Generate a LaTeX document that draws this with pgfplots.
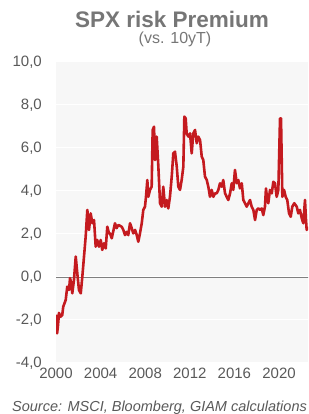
\documentclass[border=0pt]{standalone}
\usepackage{fontspec}
\setmainfont{Liberation Sans}
\usepackage{pgfplots}
\pgfplotsset{compat=1.18}
\definecolor{redline}{HTML}{C41A1F}
\definecolor{bg}{HTML}{F7F7F7}
\definecolor{txt}{HTML}{595959}
\definecolor{ttl}{HTML}{767676}
\definecolor{zero}{HTML}{7F7F7F}
\begin{document}
\begin{tikzpicture}
\useasboundingbox (0pt,0pt) rectangle (308pt,414pt);
\begin{axis}[
  at={(56pt,51pt)}, anchor=south west,
  scale only axis, width=252pt, height=301pt,
  xmin=2000, xmax=2022.6, ymin=-4, ymax=10,
  axis line style={draw=none},
  axis background/.style={fill=bg},
  ytick={-4,-2,0,2,4,6,8,10},
  yticklabels={{-4,0},{-2,0},{0,0},{2,0},{4,0},{6,0},{8,0},{10,0}},
  xtick={2000,2004,2008,2012,2016,2020},
  xticklabels={2000,2004,2008,2012,2016,2020},
  major tick length=0pt,
  ymajorgrids, grid style={white, line width=1pt},
  tick label style={font=\fontsize{15}{15}\selectfont, text=txt},
  yticklabel style={anchor=east, inner sep=0pt, xshift=-14pt},
  xticklabel style={anchor=north, inner sep=0pt, yshift=-5pt},
]
\addplot[zero, line width=0.9pt] coordinates {(2000,0) (2023,0)};
\addplot[redline, line width=2.6pt, line join=round] coordinates {
(2000.03,-1.75) (2000.10,-2.62) (2000.17,-2.3) (2000.27,-1.67) (2000.40,-1.85) (2000.56,-1.77) (2000.65,-1.38) (2000.87,-1.07) (2001.01,-0.45) (2001.17,-0.6) (2001.26,-0.05) (2001.37,-0.3) (2001.46,-0.76) (2001.61,-0.14) (2001.77,0.95) (2001.91,0.17) (2002.06,-0.6) (2002.22,-0.76) (2002.36,0.01) (2002.51,0.94) (2002.66,1.87) (2002.81,3.12) (2002.96,2.19) (2003.11,2.96) (2003.26,2.5) (2003.41,2.65) (2003.56,1.41) (2003.70,1.72) (2003.86,1.41) (2004.01,1.72) (2004.15,1.26) (2004.30,1.57) (2004.46,1.33) (2004.60,2.34) (2004.75,2.03)
(2004.84,2.03) (2005.00,1.8) (2005.29,2.5) (2005.44,2.27) (2005.59,2.42) (2005.89,2.34) (2006.04,2.19) (2006.19,1.95) (2006.34,2.1) (2006.48,1.95) (2006.64,2.5) (2006.79,2.27) (2006.93,2.03) (2007.09,2.19) (2007.24,1.95) (2007.38,1.64) (2007.53,2.03) (2007.69,2.5) (2007.83,3.12) (2007.98,3.27) (2008.07,3.73) (2008.19,4.51) (2008.28,3.73) (2008.43,4.05) (2008.58,4.2) (2008.67,6.84) (2008.79,6.99) (2008.88,5.44) (2009.03,6.53) (2009.18,5.13) (2009.33,3.43) (2009.48,3.27) (2009.62,4.2) (2009.78,3.27) (2009.93,3.58) (2010.07,3.19) (2010.22,3.73) (2010.38,4.67) (2010.52,5.75) (2010.67,5.83) (2010.83,5.13) (2010.97,4.2) (2011.12,4.05) (2011.27,4.51) (2011.42,5.13) (2011.51,7.46) (2011.63,7.38) (2011.72,6.68) (2011.87,6.53) (2012.02,6.68) (2012.17,5.75) (2012.31,6.68) (2012.47,6.84) (2012.62,6.22) (2012.76,6.53) (2012.92,6.37) (2013.07,5.6) (2013.21,5.44) (2013.36,4.67) (2013.52,4.51) (2013.66,4.2) (2013.81,3.73) (2013.96,4.05) (2014.11,3.73) (2014.26,3.89) (2014.41,3.89) (2014.56,4.05) (2014.71,4.36) (2014.86,4.2) (2015.00,4.51) (2015.16,3.89) (2015.31,3.73) (2015.45,3.58) (2015.61,3.89) (2015.76,4.36) (2015.90,4.05) (2016.05,4.98) (2016.21,4.36) (2016.35,4.51) (2016.50,4.12) (2016.66,4.36) (2016.80,3.58) (2016.95,3.43) (2017.10,3.27) (2017.25,3.43) (2017.40,3.58) (2017.55,3.27) (2017.70,3.12) (2017.85,2.65) (2018.00,3.12) (2018.14,3.19) (2018.30,3.12) (2018.45,3.19) (2018.59,2.88) (2018.74,3.27) (2018.83,4.12) (2018.95,3.58) (2019.04,3.43) (2019.19,4.05) (2019.35,3.89) (2019.49,4.43) (2019.64,4.36) (2019.79,3.73) (2019.94,4.05) (2020.09,7.38) (2020.18,7.38) (2020.30,3.73) (2020.45,4.05) (2020.60,3.73) (2020.74,3.58) (2020.90,2.96) (2021.05,2.8) (2021.19,3.27) (2021.37,3.43) (2021.59,3.27) (2021.73,2.96) (2021.88,3.12) (2022.04,2.73) (2022.18,2.5) (2022.33,3.58) (2022.42,2.65) (2022.48,2.19) (2022.60,2.34)
};
\end{axis}
\node[anchor=base, font=\fontsize{22.5}{22.5}\selectfont\bfseries, text=ttl] at (172pt,386.7pt) {SPX risk Premium};
\node[anchor=base, font=\fontsize{16}{16}\selectfont, text=ttl] at (175pt,370.5pt) {(vs. 10yT)};
\node[anchor=base west, inner sep=0pt, font=\fontsize{14.5}{14.5}\selectfont\itshape, text=txt] at (12pt,2.5pt) {Source: MSCI, Bloomberg, GIAM calculations};
\end{tikzpicture}
\end{document}
